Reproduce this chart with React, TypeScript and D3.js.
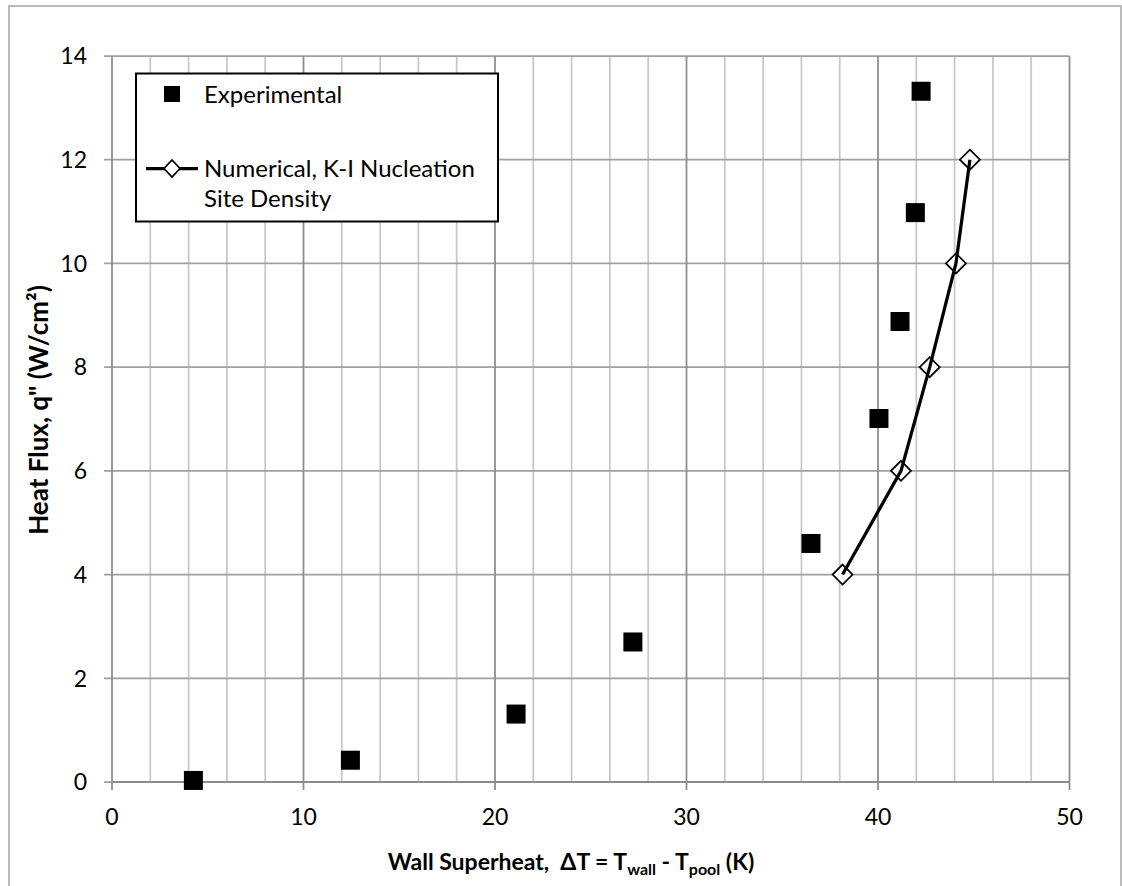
import React, { useEffect, useRef } from "react";
import * as d3 from "d3";

const width = 1122;
const height = 886;

// Experimental data points (wall superheat K, heat flux W/cm²)
const expSuperheat = [4.25, 12.45, 21.1, 27.2, 36.5, 40.05, 41.15, 41.95, 42.25];
const expFlux = [0.03, 0.42, 1.31, 2.7, 4.6, 7.01, 8.88, 10.98, 13.32];

// Numerical, K-I nucleation site density
const numSuperheat = [38.15, 41.2, 42.7, 44.07, 44.8];
const numFlux = [4, 6, 8, 10, 12];

const xTicks = [0, 10, 20, 30, 40, 50];
const xMinor = [2, 4, 6, 8, 12, 14, 16, 18, 22, 24, 26, 28, 32, 34, 36, 38, 42, 44, 46, 48];
const yTicks = [0, 2, 4, 6, 8, 10, 12, 14];

const font = "Lato, 'Open Sans', sans-serif";

const App = () => {
  const chart = useRef<SVGSVGElement>(null);

  useEffect(() => {
    const svg = d3.select(chart.current);
    svg.selectAll("*").remove();

    const x = d3.scaleLinear().domain([0, 50]).range([112, 1069.5]);
    const y = d3.scaleLinear().domain([0, 14]).range([782, 56]);

    // outer frame
    svg
      .append("rect")
      .attr("x", 9)
      .attr("y", 6)
      .attr("width", 1112)
      .attr("height", 900)
      .attr("fill", "#fff")
      .attr("stroke", "#a6a6a6")
      .attr("stroke-width", 1.5);

    // minor vertical gridlines
    svg
      .append("g")
      .selectAll("line")
      .data(xMinor)
      .join("line")
      .attr("x1", (d) => x(d))
      .attr("x2", (d) => x(d))
      .attr("y1", y(14))
      .attr("y2", y(0))
      .attr("stroke", "#c8c8c8")
      .attr("stroke-width", 1.75);

    // horizontal gridlines
    svg
      .append("g")
      .selectAll("line")
      .data(yTicks)
      .join("line")
      .attr("x1", x(0) - 8)
      .attr("x2", x(50))
      .attr("y1", (d) => y(d))
      .attr("y2", (d) => y(d))
      .attr("stroke", "#a0a0a0")
      .attr("stroke-width", 1.75);

    // major vertical gridlines
    svg
      .append("g")
      .selectAll("line")
      .data(xTicks)
      .join("line")
      .attr("x1", (d) => x(d))
      .attr("x2", (d) => x(d))
      .attr("y1", y(14))
      .attr("y2", y(0) + 8)
      .attr("stroke", "#8c8c8c")
      .attr("stroke-width", 1.75);

    // x axis line
    svg
      .append("line")
      .attr("x1", x(0))
      .attr("x2", x(50))
      .attr("y1", y(0))
      .attr("y2", y(0))
      .attr("stroke", "#8c8c8c")
      .attr("stroke-width", 2);

    // tick labels
    svg
      .append("g")
      .selectAll("text")
      .data(xTicks)
      .join("text")
      .attr("x", (d) => x(d))
      .attr("y", 825)
      .attr("text-anchor", "middle")
      .attr("font-family", font)
      .attr("font-size", 23)
      .attr("fill", "#000")
      .text((d) => d);

    svg
      .append("g")
      .selectAll("text")
      .data(yTicks)
      .join("text")
      .attr("x", 87)
      .attr("y", (d) => y(d))
      .attr("dy", "0.36em")
      .attr("text-anchor", "end")
      .attr("font-family", font)
      .attr("font-size", 23)
      .attr("fill", "#000")
      .text((d) => d);

    // axis titles
    const xt = svg
      .append("text")
      .attr("x", 571)
      .attr("y", 870)
      .attr("text-anchor", "middle")
      .attr("font-family", font)
      .attr("font-weight", 700)
      .attr("font-size", 23)
      .attr("fill", "#000");
    xt.append("tspan").text("Wall Superheat,\u00a0 ΔT = T");
    xt.append("tspan").attr("font-size", 16).attr("dy", 5).text("wall");
    xt.append("tspan").attr("dy", -5).text(" - T");
    xt.append("tspan").attr("font-size", 16).attr("dy", 5).text("pool");
    xt.append("tspan").attr("dy", -5).text(" (K)");

    svg
      .append("text")
      .attr("transform", `translate(48,410) rotate(-90)`)
      .attr("text-anchor", "middle")
      .attr("font-family", font)
      .attr("font-weight", 700)
      .attr("font-size", 26)
      .attr("fill", "#000")
      .text("Heat Flux, q\" (W/cm²)");

    // experimental squares
    const sq = 19;
    svg
      .append("g")
      .selectAll("rect")
      .data(expSuperheat.map((d, i) => [d, expFlux[i]]))
      .join("rect")
      .attr("x", (d) => x(d[0]) - sq / 2)
      .attr("y", (d) => y(d[1]) - sq / 2)
      .attr("width", sq)
      .attr("height", sq)
      .attr("fill", "#000");

    // numerical diamonds + line
    const numData = numSuperheat.map((d, i) => [d, numFlux[i]]);
    const diamond = (cx: number, cy: number) =>
      `M${cx},${cy - 10}L${cx + 10},${cy}L${cx},${cy + 10}L${cx - 10},${cy}Z`;

    svg
      .append("g")
      .selectAll("path")
      .data(numData)
      .join("path")
      .attr("d", (d) => diamond(x(d[0]), y(d[1])))
      .attr("fill", "#fff")
      .attr("stroke", "#000")
      .attr("stroke-width", 1.75);

    const line = d3
      .line<number[]>()
      .x((d) => x(d[0]))
      .y((d) => y(d[1]));
    svg
      .append("path")
      .attr("d", line(numData))
      .attr("fill", "none")
      .attr("stroke", "#000")
      .attr("stroke-width", 3.25);

    // legend
    const legend = svg.append("g");
    legend
      .append("rect")
      .attr("x", 136)
      .attr("y", 73.5)
      .attr("width", 362)
      .attr("height", 148)
      .attr("fill", "#fff")
      .attr("stroke", "#000")
      .attr("stroke-width", 2);
    legend
      .append("rect")
      .attr("x", 172 - 8)
      .attr("y", 94 - 8)
      .attr("width", 16)
      .attr("height", 16)
      .attr("fill", "#000");
    legend
      .append("line")
      .attr("x1", 146)
      .attr("x2", 198)
      .attr("y1", 168.5)
      .attr("y2", 168.5)
      .attr("stroke", "#000")
      .attr("stroke-width", 3.25);
    legend
      .append("path")
      .attr("d", `M172,160L180,168.5L172,177L164,168.5Z`)
      .attr("fill", "#fff")
      .attr("stroke", "#000")
      .attr("stroke-width", 1.75);

    const labels = ["Experimental", "Numerical, K-I Nucleation", "Site Density"];
    const labelY = [102.5, 176.5, 206.5];
    legend
      .selectAll("text")
      .data(labels)
      .join("text")
      .attr("x", 204)
      .attr("y", (d, i) => labelY[i])
      .attr("font-family", font)
      .attr("font-size", 24)
      .attr("fill", "#000")
      .text((d) => d);
  }, []);

  return (
    <div style={{ position: "absolute", left: 0, top: 0 }}>
      <svg ref={chart} width={width} height={height} viewBox={`0 0 ${width} ${height}`}></svg>
    </div>
  );
};

export default App;
